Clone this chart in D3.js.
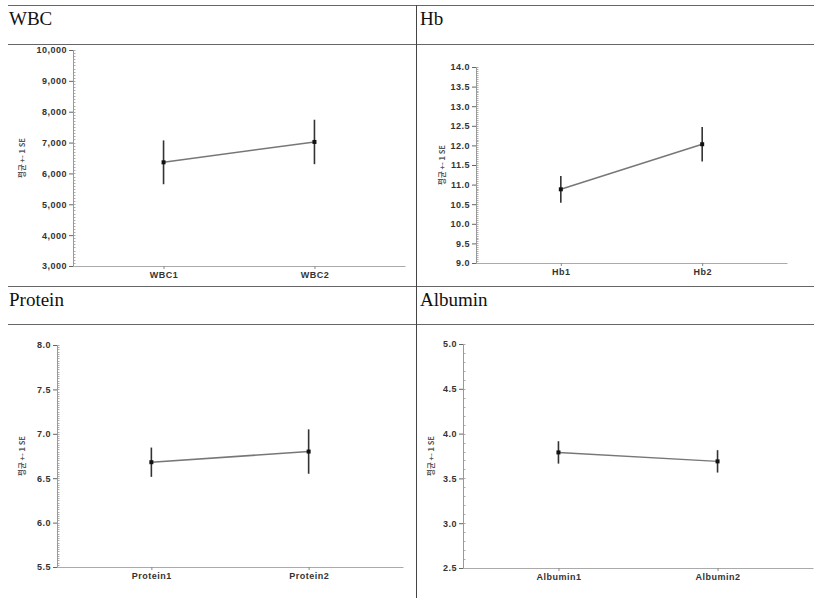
<!DOCTYPE html>
<html>
<head>
<meta charset="utf-8">
<script src="https://cdn.jsdelivr.net/npm/d3@7"></script>
<style>
  body { margin: 0; background: #fff; }
  .tick text { font-family: Arial, "Liberation Sans", sans-serif; font-weight: bold; font-size: 9px; fill: #333; letter-spacing: 0.5px; }
  .title { font-family: "Liberation Serif", "Times New Roman", serif; font-size: 19px; fill: #111; }
  .ylab { font-family: "Noto Sans CJK KR", sans-serif; font-size: 7.5px; font-weight: bold; fill: #555; }
</style>
</head>
<body>
<svg id="chart" width="814" height="598"></svg>
<script>
// values
var titles = ["WBC", "Hb", "Protein", "Albumin"];
var yLabel = "평균 +- 1 SE";

var wbcCats = ["WBC1", "WBC2"];
var wbcMeans = [6360, 7020];
var wbcSE = [710, 720];
var wbcDomain = [3000, 10000];
var wbcTicks = [3000, 4000, 5000, 6000, 7000, 8000, 9000, 10000];

var hbCats = ["Hb1", "Hb2"];
var hbMeans = [10.88, 12.03];
var hbSE = [0.34, 0.44];
var hbDomain = [9, 14];
var hbTicks = [9, 9.5, 10, 10.5, 11, 11.5, 12, 12.5, 13, 13.5, 14];

var proteinCats = ["Protein1", "Protein2"];
var proteinMeans = [6.68, 6.80];
var proteinSE = [0.165, 0.25];
var proteinDomain = [5.5, 8];
var proteinTicks = [5.5, 6, 6.5, 7, 7.5, 8];

var albuminCats = ["Albumin1", "Albumin2"];
var albuminMeans = [3.79, 3.69];
var albuminSE = [0.125, 0.125];
var albuminDomain = [2.5, 5];
var albuminTicks = [2.5, 3, 3.5, 4, 4.5, 5];

var svg = d3.select("#chart");

// table frame
var hLines = [5, 44, 286, 324];
svg.selectAll(".hline").data(hLines).enter().append("line")
  .attr("x1", 8).attr("x2", 814)
  .attr("y1", function(d) { return d + 0.5; }).attr("y2", function(d) { return d + 0.5; })
  .attr("stroke", "#666").attr("stroke-width", 1);
svg.append("line").attr("x1", 416.5).attr("x2", 416.5).attr("y1", 5).attr("y2", 598)
  .attr("stroke", "#444").attr("stroke-width", 1);

var panels = [
  { title: titles[0], cats: wbcCats, means: wbcMeans, se: wbcSE, domain: wbcDomain, ticks: wbcTicks, minor: 100, fmt: d3.format(",.0f"),
    tx: 9, ty: 25, x0: 73, x1: 405, yTop: 50, yBot: 266, labX: 25 },
  { title: titles[1], cats: hbCats, means: hbMeans, se: hbSE, domain: hbDomain, ticks: hbTicks, minor: 0.05, fmt: d3.format(".1f"),
    tx: 420, ty: 25, x0: 476, x1: 787, yTop: 67, yBot: 263, labX: 445 },
  { title: titles[2], cats: proteinCats, means: proteinMeans, se: proteinSE, domain: proteinDomain, ticks: proteinTicks, minor: 0.025, fmt: d3.format(".1f"),
    tx: 9, ty: 306, x0: 57, x1: 403, yTop: 345, yBot: 567, labX: 25 },
  { title: titles[3], cats: albuminCats, means: albuminMeans, se: albuminSE, domain: albuminDomain, ticks: albuminTicks, minor: 0.1, fmt: d3.format(".1f"),
    tx: 420, ty: 306, x0: 463, x1: 813, yTop: 344, yBot: 568, labX: 434 }
];

panels.forEach(function(p) {
  svg.append("text").attr("class", "title").attr("x", p.tx).attr("y", p.ty).text(p.title);

  var x = d3.scalePoint().domain(p.cats).range([p.x0, p.x1]).padding(0.6);
  var y = d3.scaleLinear().domain(p.domain).range([p.yBot, p.yTop]);

  var minorTicks = d3.range(p.domain[0], p.domain[1] + p.minor / 2, p.minor);

  // minor ticks inside
  svg.append("g").selectAll("line").data(minorTicks).enter().append("line")
    .attr("x1", p.x0).attr("x2", p.x0 + 2.5)
    .attr("y1", function(d) { return Math.round(y(d)) + 0.5; })
    .attr("y2", function(d) { return Math.round(y(d)) + 0.5; })
    .attr("stroke", "#999").attr("stroke-width", 0.8);

  var yAxis = svg.append("g").attr("transform", "translate(" + p.x0 + ",0)")
    .call(d3.axisLeft(y).tickValues(p.ticks).tickFormat(p.fmt).tickSize(4).tickPadding(2).tickSizeOuter(0));
  yAxis.select(".domain").attr("stroke", "#999");
  yAxis.selectAll(".tick line").attr("stroke", "#666");

  var xAxis = svg.append("g").attr("transform", "translate(0," + p.yBot + ")")
    .call(d3.axisBottom(x).tickSize(3).tickPadding(3).tickSizeOuter(0));
  xAxis.select(".domain").attr("stroke", "#aaa");
  xAxis.selectAll(".tick line").attr("stroke", "#888");

  svg.append("text").attr("class", "ylab")
    .attr("transform", "translate(" + p.labX + "," + ((p.yTop + p.yBot) / 2) + ") rotate(-90)")
    .attr("text-anchor", "middle").text(yLabel);

  var pts = p.cats.map(function(c, i) { return { c: c, m: p.means[i], se: p.se[i] }; });

  svg.append("path").datum(pts)
    .attr("d", d3.line().x(function(d) { return x(d.c); }).y(function(d) { return y(d.m); }))
    .attr("fill", "none").attr("stroke", "#777").attr("stroke-width", 1.5);

  svg.append("g").selectAll("line").data(pts).enter().append("line")
    .attr("x1", function(d) { return x(d.c); }).attr("x2", function(d) { return x(d.c); })
    .attr("y1", function(d) { return y(d.m - d.se); }).attr("y2", function(d) { return y(d.m + d.se); })
    .attr("stroke", "#333").attr("stroke-width", 1.6);

  svg.append("g").selectAll("rect").data(pts).enter().append("rect")
    .attr("x", function(d) { return x(d.c) - 2; }).attr("y", function(d) { return y(d.m) - 2; })
    .attr("width", 4).attr("height", 4).attr("fill", "#111");
});
</script>
</body>
</html>
